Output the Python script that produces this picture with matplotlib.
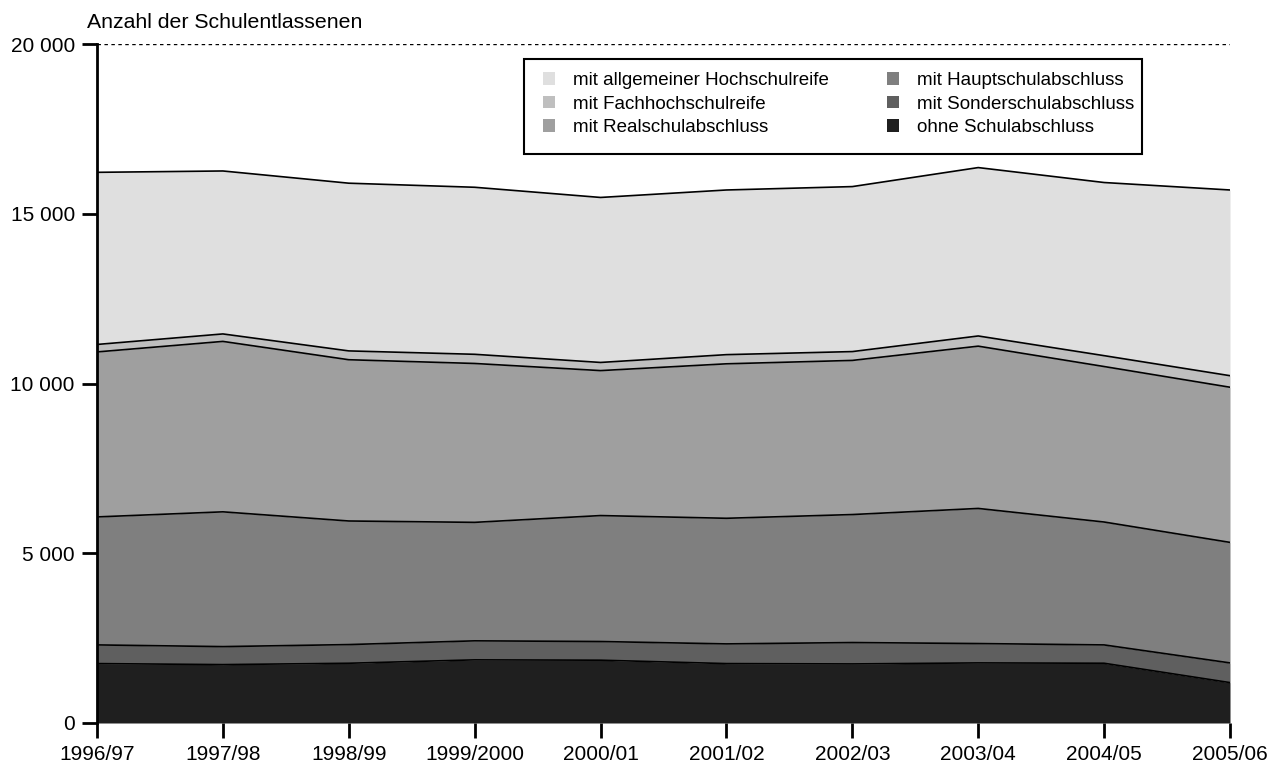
import numpy as np
import matplotlib
matplotlib.use("Agg")
import matplotlib.pyplot as plt
from matplotlib.patches import Patch, Rectangle
from matplotlib.ticker import FuncFormatter

plt.rcParams['font.family'] = ['Liberation Sans', 'DejaVu Sans']

jahre = ["1996/97", "1997/98", "1998/99", "1999/2000", "2000/01",
         "2001/02", "2002/03", "2003/04", "2004/05", "2005/06"]

ohne = [1750, 1720, 1760, 1860, 1850, 1750, 1740, 1770, 1760, 1190]
sonder = [550, 530, 550, 560, 550, 580, 630, 570, 540, 580]
haupt = [3770, 3970, 3640, 3490, 3710, 3700, 3770, 3980, 3620, 3550]
real = [4860, 5020, 4750, 4680, 4270, 4550, 4540, 4780, 4580, 4570]
fach = [220, 220, 260, 270, 240, 270, 260, 300, 320, 340]
allg = [5070, 4800, 4940, 4920, 4860, 4850, 4860, 4960, 5100, 5470]

serien = [ohne, sonder, haupt, real, fach, allg]
namen = ["ohne Schulabschluss", "mit Sonderschulabschluss", "mit Hauptschulabschluss",
         "mit Realschulabschluss", "mit Fachhochschulreife", "mit allgemeiner Hochschulreife"]
farben = ["#1f1f1f", "#5f5f5f", "#7f7f7f", "#9f9f9f", "#bfbfbf", "#dfdfdf"]

fig = plt.figure(figsize=(12.73, 7.67), dpi=100)
ax = fig.add_axes([97/1273, 1-723/767, (1230-97)/1273, (723-44)/767])

x = np.arange(len(jahre))
unten = np.zeros(len(jahre))
for werte, farbe in zip(serien, farben):
    oben = unten + np.array(werte)
    ax.fill_between(x, unten, oben, color=farbe, lw=0, zorder=2)
    ax.plot(x, oben, color="black", lw=1.2, zorder=3)
    unten = oben

ax.set_xlim(0, len(jahre)-1)
ax.set_ylim(0, 20000)
ax.set_yticks([0, 5000, 10000, 15000, 20000])
ax.yaxis.set_major_formatter(FuncFormatter(lambda v, p: f"{v:,.0f}".replace(",", " ")))
ax.set_xticks(x)
ax.set_xticklabels(jahre)
ax.grid(axis="y", color="black", ls=(0, (2.5, 2.5)), lw=1, zorder=1)
ax.set_axisbelow(True)
for s in ["top", "right", "bottom"]:
    ax.spines[s].set_visible(False)
ax.spines["left"].set_linewidth(2)
ax.spines["left"].set_zorder(4)
ax.tick_params(axis="y", direction="out", length=11, width=2, labelsize=15, pad=5)
ax.tick_params(axis="x", direction="out", length=11, width=2, labelsize=15, pad=5)

fig.text(87/1273, 1-28/767, "Anzahl der Schulentlassenen", fontsize=15.3, va="baseline", ha="left")

# legend
reihenfolge = [5, 4, 3, 2, 1, 0]
handles = [Patch(facecolor=farben[i], edgecolor="none") for i in reihenfolge]
labels = [namen[i] for i in reihenfolge]
fig.legend(handles, labels, ncol=2, loc="upper left", bbox_to_anchor=(543/1273, 1-72/767),
           frameon=False, fontsize=13.5, handlelength=0.64, handleheight=0.64,
           handletextpad=0.96, columnspacing=3.1, labelspacing=0.35,
           borderpad=0, borderaxespad=0)
fig.patches.append(Rectangle((524/1273, 1-154/767), (1142-524)/1273, (154-59)/767,
                             transform=fig.transFigure, fill=True, facecolor="white",
                             edgecolor="black", lw=1.5, zorder=0))

fig.savefig("out.png", dpi=100)
